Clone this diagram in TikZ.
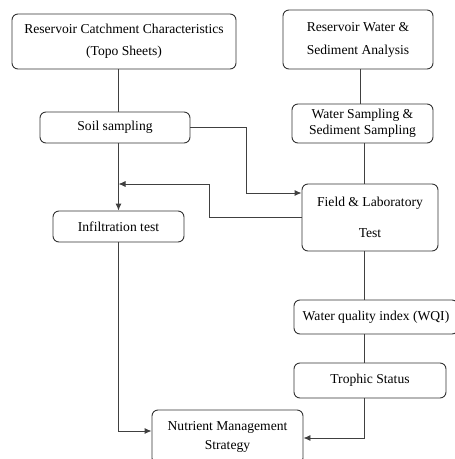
\documentclass[tikz,border=0pt]{standalone}
\usepackage{fontspec}
\setmainfont{Liberation Serif}
\usetikzlibrary{arrows.meta,positioning,calc}

\begin{document}
\begin{tikzpicture}[x=1pt,y=-1pt,>={Latex[length=7pt,width=6pt]},line width=0.9pt,
  box/.style={draw=black!80,rounded corners=6pt,align=center,inner sep=0pt,font=\fontsize{13.6}{16}\selectfont},
  link/.style={draw=black!75}]
\useasboundingbox (0,0) rectangle (455,459);
\clip (0,0) rectangle (455,459);
\node[box,minimum width=224pt,minimum height=55pt] (catch) at (124,41.5) {Reservoir Catchment Characteristics\\[6pt](Topo Sheets)};
\node[box,minimum width=150pt,minimum height=59pt] (resw) at (358,39.5) {Reservoir Water \&\\[7pt]Sediment Analysis};
\node[box,minimum width=150pt,minimum height=31pt] (soil) at (115,127.5) {Soil sampling};
\node[box,minimum width=141pt,minimum height=39pt] (wsamp) at (362.5,123.5) {Water Sampling \&\\Sediment Sampling};
\node[box,minimum width=136pt,minimum height=67pt] (field) at (370,217.5) {Field \& Laboratory\\[15pt]Test};
\node[box,minimum width=131pt,minimum height=31pt] (infil) at (118.5,226.5) {Infiltration test};
\node[box,minimum width=164pt,minimum height=34pt] (wqi) at (376,317) {Water quality index (WQI)};
\node[box,minimum width=152pt,minimum height=35pt] (troph) at (370,380.5) {Trophic Status};
\node[box,minimum width=151pt,minimum height=54pt] (nutr) at (227.5,437) {Nutrient Management\\[3pt]Strategy};
\coordinate (rcol) at (364,0);
\coordinate (bendA) at (246,193);
\coordinate (bendB) at (209,184);
% left column
\draw[link] (catch.south -| infil) -- (soil.north -| infil);
\draw[link,->] (soil.south -| infil) -- (infil.north);
\draw[link,->] (infil.south) |- ([yshift=6pt]nutr.west);
% right column
\draw[link] (resw.south -| 360,0) -- (wsamp.north -| 360,0);
\draw[link] (wsamp.south -| rcol) -- (field.north -| rcol);
\draw[link] (field.south -| rcol) -- (wqi.north -| rcol);
\draw[link] (wqi.south -| rcol) -- (troph.north -| rcol);
\draw[link,->] (troph.south -| rcol) |- ([yshift=-1pt]nutr.east);
% cross links
\draw[link,->] (soil.east) -| (bendA) -- (bendA -| field.west);
\draw[link,->] (field.west) -| (bendB) -- (bendB -| infil.north);
\end{tikzpicture}
\end{document}
